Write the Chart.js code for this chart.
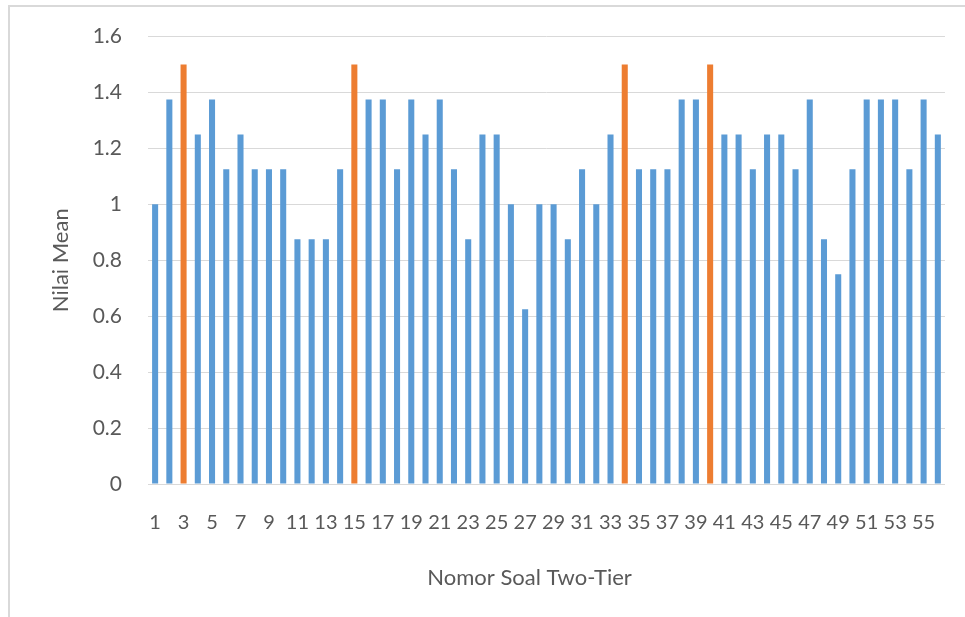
<!DOCTYPE html>
<html lang="id">
<head>
    <meta charset="UTF-8">
    <title>Nilai Mean per Nomor Soal Two-Tier</title>
    <script src="https://cdn.jsdelivr.net/npm/chart.js"></script>
    <style>
        html, body { margin: 0; padding: 0; background: #fff; }
        #wrap { position: relative; width: 965px; height: 617px; overflow: hidden; }
        #frame { position: absolute; left: 8px; top: 5px; width: 1000px; height: 700px;
                 border-top: 2px solid #d9d9d9; border-left: 2px solid #d9d9d9; }
        #chart { position: absolute; left: 0; top: 0; }
    </style>
</head>
<body>
<div id="wrap">
    <div id="frame"></div>
    <canvas id="chart" width="965" height="617"></canvas>
</div>
<script>
    // question numbers 1..56
    const soal = ['1','2','3','4','5','6','7','8','9','10','11','12','13','14','15','16','17','18','19','20',
                  '21','22','23','24','25','26','27','28','29','30','31','32','33','34','35','36','37','38','39','40',
                  '41','42','43','44','45','46','47','48','49','50','51','52','53','54','55','56'];
    // mean values
    const nilaiMean = [1.0, 1.375, 1.5, 1.25, 1.375, 1.125, 1.25, 1.125, 1.125, 1.125,
                       0.875, 0.875, 0.875, 1.125, 1.5, 1.375, 1.375, 1.125, 1.375, 1.25,
                       1.375, 1.125, 0.875, 1.25, 1.25, 1.0, 0.625, 1.0, 1.0, 0.875,
                       1.125, 1.0, 1.25, 1.5, 1.125, 1.125, 1.125, 1.375, 1.375, 1.5,
                       1.25, 1.25, 1.125, 1.25, 1.25, 1.125, 1.375, 0.875, 0.75, 1.125,
                       1.375, 1.375, 1.375, 1.125, 1.375, 1.25];
    // highlighted (orange) questions
    const soalTertinggi = ['3', '15', '34', '40'];
    const yTicks = [0, 0.2, 0.4, 0.6, 0.8, 1, 1.2, 1.4, 1.6];

    const BLUE = '#5b9bd5', ORANGE = '#ed7d31', TEXT = '#595959';
    const FONT = "Lato, 'Open Sans', sans-serif";

    const colors = soal.map(s => soalTertinggi.includes(s) ? ORANGE : BLUE);

    new Chart(document.getElementById('chart'), {
        type: 'bar',
        data: {
            labels: soal,
            datasets: [{
                data: nilaiMean,
                backgroundColor: colors,
                borderWidth: 0,
                barPercentage: 0.85,
                categoryPercentage: 0.5
            }]
        },
        options: {
            responsive: false,
            animation: false,
            layout: { padding: { left: 44, right: 18, top: 35, bottom: 26 } },
            plugins: { legend: { display: false }, tooltip: { enabled: false } },
            scales: {
                x: {
                    grid: { display: false, drawTicks: false },
                    border: { color: '#d9d9d9', width: 1 },
                    ticks: {
                        autoSkip: false, maxRotation: 0, minRotation: 0, padding: 27,
                        color: TEXT, font: { family: FONT, size: 20 },
                        callback: function (v, i) { return i % 2 === 0 ? soal[i] : ''; }
                    },
                    title: {
                        // trailing spaces nudge the centred title a little to the left
                        display: true, text: 'Nomor Soal Two-Tier      ', color: TEXT,
                        font: { family: FONT, size: 22 }, padding: { top: 20, bottom: 0 }
                    },
                    afterFit: function (s) { s.height = 617 - 26 - 484; }
                },
                y: {
                    min: 0, max: 1.6,
                    afterBuildTicks: function (s) { s.ticks = yTicks.map(v => ({ value: v })); },
                    grid: { color: '#d9d9d9', lineWidth: 1, drawTicks: false },
                    border: { display: false },
                    ticks: {
                        padding: 26, color: TEXT, font: { family: FONT, size: 21, lineHeight: 1.0 },
                        callback: function (v) { return String(v); }
                    },
                    title: {
                        display: true, text: 'Nilai Mean', color: TEXT,
                        font: { family: FONT, size: 22 }, padding: 4
                    },
                    afterFit: function (s) { s.width = 148 - 44; }
                }
            }
        }
    });
</script>
</body>
</html>
